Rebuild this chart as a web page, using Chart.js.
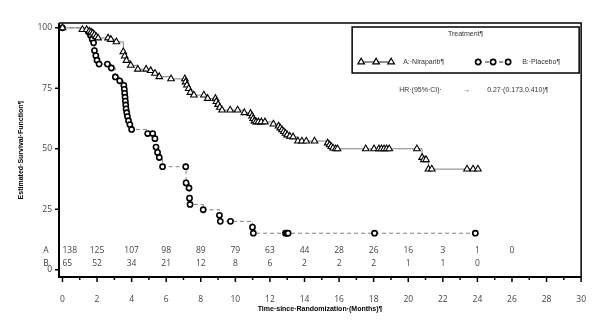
<!DOCTYPE html>
<html>
<head>
<meta charset="utf-8">
<script src="https://cdn.jsdelivr.net/npm/chart.js@4"></script>
<style>
  html, body { margin: 0; padding: 0; background: #fff; }
  canvas { display: block; }
</style>
</head>
<body>
<canvas id="kmChart" width="603" height="325"></canvas>
<script>
// Kaplan-Meier curves (months, survival %)
const niraparibTimes = [0, 1.15, 1.4, 1.55, 1.65, 1.75, 1.85, 1.95, 2.06, 2.64, 2.8, 3.12, 3.52, 3.6, 3.7, 3.95,
  4.36, 4.84, 5.1, 5.35, 5.6, 6.28, 7.08, 7.12, 7.2, 7.3, 7.4, 7.6, 8.18, 8.4, 8.85, 8.9, 9.0, 9.1, 9.23,
  9.7, 10.13, 10.52, 10.88, 10.97, 11.03, 11.1, 11.2, 11.33, 11.5, 11.71, 12.2, 12.5, 12.6, 12.7, 12.8,
  12.9, 13.0, 13.15, 13.34, 13.62, 13.85, 14.1, 14.58, 15.34, 15.45, 15.55, 15.65, 15.8, 15.91, 17.54, 18.02,
  18.3, 18.45, 18.6, 18.75, 18.9, 20.5, 20.8, 20.9, 21.03, 21.17, 21.36, 23.4, 23.75, 24.03];
const niraparibSurv = [100, 99.3, 99.3, 98.6, 98.2, 97.8, 97.1, 96.4, 95.8, 95.8, 95.2, 94.2, 90.1, 88.3, 86.5, 84.5,
  82.9, 82.9, 82.3, 81.2, 79.8, 78.9, 78.9, 77.6, 76.3, 74.9, 73.3, 72.2, 72.2, 70.8, 70.8, 69.5, 68.3, 67.1, 66.0,
  66.0, 66.0, 64.9, 64.6, 63.5, 62.5, 61.5, 61.1, 61.1, 61.1, 61.1, 60.2, 59.4, 58.6, 57.8, 57.1,
  56.4, 55.7, 55.2, 54.9, 53.2, 53.2, 53.2, 53.2, 52.4, 51.6, 50.9, 50.3, 50.0, 50.0, 50.0, 50.0,
  50.0, 50.0, 50.0, 50.0, 50.0, 50.0, 46.4, 45.5, 45.5, 41.6, 41.6, 41.6, 41.6, 41.6];

const placeboTimes = [0, 1.5, 1.62, 1.72, 1.8, 1.85, 1.93, 2.0, 2.12, 2.6, 2.83, 3.06, 3.31, 3.55, 3.58, 3.6, 3.62,
  3.64, 3.66, 3.68, 3.72, 3.76, 3.82, 3.9, 4.0, 4.93, 5.22, 5.35, 5.41, 5.5, 5.6, 5.79, 7.13, 7.15, 7.32, 7.35,
  7.38, 8.14, 9.08, 9.13, 9.72, 10.99, 11.04, 12.9, 12.98, 13.05, 18.05, 23.88];
const placeboSurv = [100, 98.4, 96.9, 95.3, 93.8, 90.6, 88.5, 86.6, 85.0, 85.0, 83.4, 79.7, 78.1, 76.2, 74.6, 72.9, 71.3,
  69.7, 68.1, 66.5, 64.9, 63.3, 61.6, 60.0, 58.0, 56.3, 56.3, 54.2, 50.7, 48.5, 46.4, 42.6, 42.6, 35.9, 33.8, 29.6,
  27.0, 24.8, 22.5, 20.0, 20.0, 17.6, 15.1, 15.1, 15.1, 15.1, 15.1, 15.1];

// axes
const xTicks = [0, 1, 2, 3, 4, 5, 6, 7, 8, 9, 10, 11, 12, 13, 14, 15, 16, 17, 18, 19, 20, 21, 22, 23, 24, 25, 26, 27, 28, 29, 30];
const yTicks = [0, 25, 50, 75, 100];

// numbers at risk
const riskTimesA = [0, 2, 4, 6, 8, 10, 12, 14, 16, 18, 20, 22, 24, 26];
const riskA = [138, 125, 107, 98, 89, 79, 63, 44, 28, 26, 16, 3, 1, 0];
const riskTimesB = [0, 2, 4, 6, 8, 10, 12, 14, 16, 18, 20, 22, 24];
const riskB = [65, 52, 34, 21, 12, 8, 6, 2, 2, 2, 1, 1, 0];

const groupNames = ['A:·Niraparib¶', 'B:·Placebo¶'];
const legendTitle = 'Treatment¶';
const hrLabel = 'HR·(95%·CI)·';
const hrValue = '0.27·(0.173,0.410)¶';

const toPoints = (xs, ys) => xs.map((x, i) => ({x: x, y: ys[i]}));

const tickFont = {family: 'Open Sans', size: 8.5};
const textColor = '#444';

const decorations = {
  id: 'decorations',
  afterDraw(chart) {
    const ctx = chart.ctx;
    const ca = chart.chartArea;
    const xs = chart.scales.x, ys = chart.scales.y;
    ctx.save();

    // frame
    ctx.strokeStyle = '#000';
    ctx.lineWidth = 1.5;
    ctx.beginPath();
    ctx.moveTo(ca.left, ca.top);
    ctx.lineTo(ca.right, ca.top);
    ctx.lineTo(ca.right, ca.bottom);
    ctx.stroke();
    ctx.lineWidth = 2;
    ctx.beginPath();
    ctx.moveTo(ca.left, ca.top);
    ctx.lineTo(ca.left, ca.bottom);
    ctx.lineTo(ca.right, ca.bottom);
    ctx.stroke();

    // tick marks
    ctx.lineWidth = 1.5;
    ctx.beginPath();
    xTicks.forEach(v => {
      const px = xs.getPixelForValue(v);
      ctx.moveTo(px, ca.bottom);
      ctx.lineTo(px, ca.bottom + (v % 2 === 0 ? 5 : 3));
    });
    yTicks.forEach(v => {
      const py = ys.getPixelForValue(v);
      ctx.moveTo(ca.left - 4, py);
      ctx.lineTo(ca.left, py);
    });
    ctx.stroke();

    // numbers at risk
    ctx.fillStyle = textColor;
    ctx.font = '8.5px "Open Sans"';
    ctx.textBaseline = 'middle';
    const rowA = ca.bottom - 26, rowB = ca.bottom - 13.5;
    ctx.textAlign = 'center';
    ctx.fillText('A', ca.left - 13, rowA);
    ctx.fillText('B', ca.left - 13, rowB);
    [[riskTimesA, riskA, rowA], [riskTimesB, riskB, rowB]].forEach(([ts, ns, row]) => {
      ts.forEach((t, i) => {
        ctx.textAlign = i === 0 ? 'left' : 'center';
        ctx.fillText(String(ns[i]), xs.getPixelForValue(t), row);
      });
    });

    // legend box
    const bRight = ca.right - 2, bLeft = bRight - 227, bTop = ca.top + 4, bBottom = bTop + 46;
    ctx.strokeStyle = '#000';
    ctx.lineWidth = 1.5;
    ctx.strokeRect(bLeft, bTop, bRight - bLeft, bBottom - bTop);
    ctx.fillStyle = '#333';
    ctx.font = '7px "Liberation Sans"';
    ctx.textAlign = 'center';
    ctx.fillText(legendTitle, (bLeft + bRight) / 2, bTop + 7);

    const symY = bTop + 35;
    const drawSym = (x0, x1, style, dashed) => {
      ctx.save();
      ctx.strokeStyle = '#222';
      ctx.lineWidth = 1;
      if (dashed) ctx.setLineDash([4, 3]);
      ctx.beginPath();
      ctx.moveTo(x0, symY);
      ctx.lineTo(x1, symY);
      ctx.stroke();
      ctx.restore();
      ctx.save();
      ctx.strokeStyle = '#000';
      ctx.fillStyle = '#fff';
      ctx.lineWidth = style === 'circle' ? 1.6 : 1.2;
      [x0, (x0 + x1) / 2, x1].forEach(px => {
        Chart.helpers.drawPoint(ctx, {pointStyle: style, radius: style === 'circle' ? 2.6 : 3.8, rotation: 0, borderWidth: ctx.lineWidth}, px, symY);
      });
      ctx.restore();
    };
    drawSym(bLeft + 9, bLeft + 39, 'triangle', false);
    drawSym(bLeft + 126, bLeft + 156, 'circle', true);
    ctx.fillStyle = '#333';
    ctx.textAlign = 'left';
    ctx.fillText(groupNames[0], bLeft + 51, symY);
    ctx.fillText(groupNames[1], bLeft + 170, symY);

    // hazard ratio
    const hrY = bBottom + 17;
    ctx.fillText(hrLabel, bLeft + 47, hrY);
    ctx.fillText('→', bLeft + 111, hrY);
    ctx.fillText(hrValue, bLeft + 135, hrY);

    ctx.restore();
  }
};

new Chart('kmChart', {
  type: 'line',
  data: {
    datasets: [{
      label: groupNames[0],
      data: toPoints(niraparibTimes, niraparibSurv),
      stepped: true,
      borderColor: '#808080',
      borderWidth: 1,
      pointStyle: 'triangle',
      pointRadius: 3.8,
      pointBorderColor: '#000',
      pointBackgroundColor: '#fff',
      pointBorderWidth: 1.1
    }, {
      label: groupNames[1],
      data: toPoints(placeboTimes, placeboSurv),
      stepped: true,
      borderColor: '#808080',
      borderWidth: 1,
      borderDash: [4, 3],
      pointStyle: 'circle',
      pointRadius: 2.6,
      pointBorderColor: '#000',
      pointBackgroundColor: '#fff',
      pointBorderWidth: 1.6
    }]
  },
  options: {
    responsive: false,
    animation: false,
    devicePixelRatio: 1,
    layout: {padding: {left: 10, right: 18, top: 23, bottom: 0}},
    plugins: {
      legend: {display: false},
      tooltip: {enabled: false}
    },
    scales: {
      x: {
        type: 'linear',
        min: -0.2,
        max: 30,
        afterBuildTicks: s => { s.ticks = xTicks.map(v => ({value: v})); },
        afterFit: s => { s.height = 48; },
        grid: {display: false, drawTicks: false},
        border: {display: false},
        ticks: {
          autoSkip: false,
          maxRotation: 0,
          padding: 17,
          font: tickFont,
          color: textColor,
          callback: v => (v % 2 === 0 ? String(v) : '')
        },
        title: {
          display: true,
          text: 'Time·since·Randomization·(Months)¶',
          font: {family: 'Liberation Sans', size: 7, weight: 'bold'},
          color: '#000',
          padding: {top: 0, bottom: 12}
        }
      },
      y: {
        min: -3,
        max: 102,
        afterBuildTicks: s => { s.ticks = yTicks.map(v => ({value: v})); },
        afterFit: s => { s.width = 49; },
        grid: {display: false, drawTicks: false},
        border: {display: false},
        ticks: {
          padding: 7,
          font: tickFont,
          color: textColor
        },
        title: {
          display: true,
          text: 'Estimated·Survival·Function¶',
          font: {family: 'Liberation Sans', size: 7, weight: 'bold'},
          color: '#000',
          padding: {top: 7, bottom: 0}
        }
      }
    }
  },
  plugins: [decorations]
});
</script>
</body>
</html>
